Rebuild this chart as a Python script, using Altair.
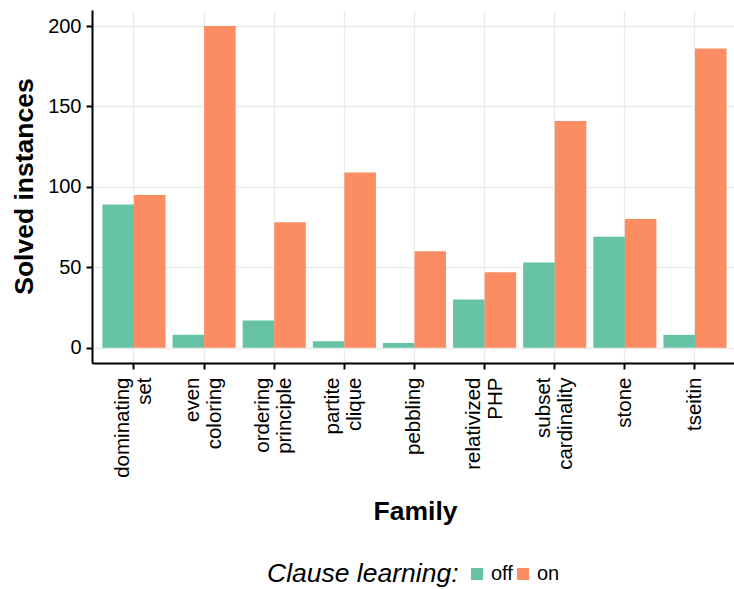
import altair as alt
import pandas as pd

# Solved instances per formula family, with and without clause learning
families = [
    "dominating set", "even coloring", "ordering principle", "partite clique",
    "pebbling", "relativized PHP", "subset cardinality", "stone", "tseitin",
]
solved_off = [89, 8, 17, 4, 3, 30, 53, 69, 8]
solved_on = [95, 200, 78, 109, 60, 47, 141, 80, 186]
modes = ["off", "on"]
mode_colors = ["#66C2A5", "#FC8D62"]
y_ticks = [0, 50, 100, 150, 200]

rows = []
for fam, a, b in zip(families, solved_off, solved_on):
    rows.append({"Family": fam, "Clause learning": "off", "Solved": a})
    rows.append({"Family": fam, "Clause learning": "on", "Solved": b})
df = pd.DataFrame(rows)

FONT = "Liberation Sans"

chart = (
    alt.Chart(df)
    .mark_bar()
    .encode(
        x=alt.X(
            "Family:N",
            sort=families,
            scale=alt.Scale(paddingInner=0.1, paddingOuter=0.1275, align=0.583),
            axis=alt.Axis(
                title="Family",
                labelAngle=270,
                labelAlign="right",
                labelBaseline="middle",
                labelExpr="split(datum.label, ' ')",
                labelLineHeight=22,
                labelPadding=8,
                # two-line labels are centred as a block on their tick
                labelOffset={"expr": "indexof(datum.value, ' ') >= 0 ? -11 : 0"},
                labelFontSize=20.5,
                bandPosition=0.5,
                titleX=323,
                titleY=156,
                titleAlign="center",
                titleBaseline="alphabetic",
            ),
        ),
        xOffset=alt.XOffset(
            "Clause learning:N",
            sort=modes,
            scale=alt.Scale(paddingInner=0, paddingOuter=0),
        ),
        y=alt.Y(
            "Solved:Q",
            scale=alt.Scale(domain=[-9.5, 210], nice=False, zero=False),
            axis=alt.Axis(
                title="Solved instances",
                values=y_ticks,
                labelPadding=5,
                labelFontSize=20,
                titleAngle=270,
                titleX=-60,
                titleY=176,
                titleAlign="center",
                titleBaseline="alphabetic",
            ),
        ),
        y2=alt.Y2(datum=0),
        color=alt.Color(
            "Clause learning:N",
            sort=modes,
            scale=alt.Scale(domain=modes, range=mode_colors),
            legend=alt.Legend(
                title="Clause learning:",
                orient="none",
                direction="horizontal",
                titleOrient="left",
                legendX=175,
                legendY=554,
                symbolType="square",
                symbolSize=144,
                symbolStrokeWidth=0,
                symbolOpacity=1,
                labelFontSize=20,
                labelOffset=4,
                columnPadding=-2,
                titleFontSize=26.5,
                titleFontStyle="italic",
                titleFontWeight="normal",
                titlePadding=8,
                titleLimit=400,
                titleColor="black",
                labelColor="black",
                titleFont=FONT,
                labelFont=FONT,
            ),
        ),
    )
    .properties(
        width=642,
        height=353,
        autosize=alt.AutoSizeParams(type="none"),
        padding={"left": 92, "top": 10, "right": 0, "bottom": 226},
    )
    .configure_view(stroke=None)
    .configure_axis(
        labelFont=FONT,
        titleFont=FONT,
        labelColor="black",
        titleColor="black",
        titleFontSize=26.5,
        titleFontWeight="bold",
        domainColor="black",
        domainWidth=2,
        tickColor="black",
        tickWidth=2,
        tickSize=6,
        gridColor="#EBEBEB",
        gridWidth=1.3,
        grid=True,
    )
)

chart.save("out.html", embed_options={"renderer": "svg", "actions": False})
